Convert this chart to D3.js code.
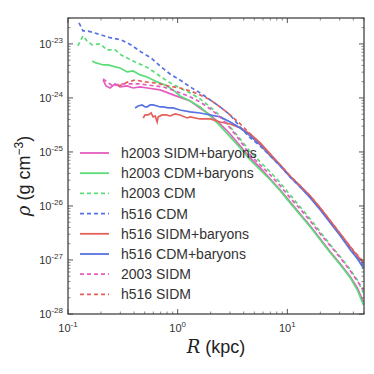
<!DOCTYPE html>
<html><head><meta charset="utf-8">
<script src="https://cdn.jsdelivr.net/npm/d3@7"></script>
<style>html,body{margin:0;padding:0;background:#fff;}svg{display:block;}</style>
</head><body>
<svg id="chart" width="374" height="374"></svg>
<script>
// ---- data (R in kpc, rho in g cm^-3) ----
const rH2003SidmBar = [0.209,0.222,0.242,0.269,0.298,0.346,0.392,0.455,0.527,0.692,0.910,1.30,1.60,1.98,2.44,3.01,3.72,4.59,5.66,7.00,8.63,10.6,13.1,16.2,20.0,24.7,30.5,37.6,43.5,49.4];
const rhoH2003SidmBar = [2.15e-24,1.67e-24,1.53e-24,1.82e-24,1.60e-24,1.67e-24,1.53e-24,1.60e-24,1.53e-24,1.41e-24,1.14e-24,8.80e-25,6.53e-25,4.84e-25,3.30e-25,2.15e-25,1.29e-25,7.74e-26,5.06e-26,3.16e-26,1.98e-26,1.19e-26,7.11e-27,4.26e-27,2.45e-27,1.41e-27,8.43e-28,4.84e-28,3.03e-28,1.67e-28];

const rH2003CdmBar = [0.166,0.180,0.196,0.209,0.232,0.269,0.298,0.346,0.392,0.455,0.527,0.650,0.769,0.910,1.05,1.30,1.60,1.98,2.44,3.01,3.72,4.59,5.66,7.00,8.63,10.6,13.1,16.2,20.0,24.7,30.5,37.6,43.5,49.4];
const rhoH2003CdmBar = [4.84e-24,4.45e-24,4.26e-24,4.08e-24,4.08e-24,3.75e-24,3.59e-24,3.03e-24,3.16e-24,2.67e-24,2.45e-24,1.98e-24,1.74e-24,1.41e-24,1.09e-24,8.80e-25,6.81e-25,4.64e-25,3.03e-25,1.90e-25,1.19e-25,7.11e-26,4.64e-26,3.03e-26,1.90e-26,1.14e-26,6.81e-27,4.08e-27,2.35e-27,1.35e-27,8.08e-28,4.64e-28,2.78e-28,1.47e-28];

const rH2003Cdm = [0.123,0.137,0.149,0.166,0.196,0.227,0.269,0.305,0.409,0.538,0.707,0.854,1.05,1.30,1.60,1.98,2.44,3.01,3.72,4.59,5.66,7.00,8.63,10.6,13.1,16.2,20.0,24.7,30.5,37.6,43.5,49.4];
const rhoH2003Cdm = [9.18e-24,1.41e-23,1.14e-23,9.58e-24,1.0e-23,7.74e-24,7.74e-24,6.26e-24,4.64e-24,3.59e-24,2.45e-24,1.90e-24,1.53e-24,1.24e-24,9.58e-25,6.81e-25,4.64e-25,2.90e-25,1.74e-25,1.0e-25,6.53e-26,4.26e-26,2.67e-26,1.60e-26,9.58e-27,5.74e-27,3.30e-27,1.90e-27,1.14e-27,6.53e-28,4.26e-28,2.45e-28];

const rH516Cdm = [0.126,0.137,0.149,0.162,0.200,0.247,0.305,0.376,0.464,0.573,0.707,0.873,1.05,1.30,1.60,1.98,2.44,3.01,3.72,4.59,5.66,7.00,8.63,10.6,13.1,16.2,20.0,24.7,30.5,37.6,43.5,49.4];
const rhoH516Cdm = [2.45e-23,1.74e-23,1.74e-23,1.67e-23,1.47e-23,1.29e-23,1.19e-23,9.58e-24,7.11e-24,5.51e-24,3.75e-24,2.67e-24,2.15e-24,1.60e-24,1.24e-24,9.18e-25,6.81e-25,4.84e-25,2.90e-25,1.82e-25,1.29e-25,8.43e-26,5.51e-26,3.44e-26,2.25e-26,1.47e-26,8.80e-27,5.06e-27,2.90e-27,1.60e-27,1.14e-27,8.08e-28];

const rH516SidmBar = [0.484,0.505,0.538,0.573,0.597,0.623,0.650,0.664,0.722,0.785,0.854,0.949,1.05,1.22,1.30,1.60,1.98,2.44,3.01,3.72,4.59,5.66,7.00,8.63,10.6,13.1,16.2,20.0,24.7,30.5,37.6,43.5,49.4];
const rhoH516SidmBar = [4.26e-25,4.84e-25,4.84e-25,5.27e-25,4.45e-25,4.64e-25,3.59e-25,4.45e-25,4.84e-25,4.84e-25,4.64e-25,5.06e-25,4.84e-25,4.26e-25,4.45e-25,4.08e-25,4.08e-25,3.59e-25,3.30e-25,2.78e-25,2.15e-25,1.47e-25,9.18e-26,5.74e-26,3.59e-26,2.35e-26,1.53e-26,9.18e-27,5.27e-27,3.03e-27,1.74e-27,1.19e-27,8.80e-28];

const rH516CdmBar = [0.409,0.436,0.474,0.505,0.527,0.561,0.597,0.650,0.692,0.737,0.819,0.910,1.05,1.30,1.60,1.98,2.44,3.01,3.72,4.59,5.66,7.00,8.63,10.6,13.1,16.2,20.0,24.7,30.5,37.6,43.5,49.4];
const rhoH516CdmBar = [6.53e-25,7.11e-25,7.42e-25,6.81e-25,6.81e-25,7.42e-25,7.42e-25,7.11e-25,6.81e-25,6.81e-25,6.53e-25,6.53e-25,5.99e-25,5.51e-25,5.27e-25,4.84e-25,4.45e-25,3.59e-25,2.78e-25,1.98e-25,1.35e-25,8.43e-26,5.51e-26,3.44e-26,2.25e-26,1.41e-26,8.43e-27,4.84e-27,2.78e-27,1.53e-27,1.05e-27,7.11e-28];

const rH2003Sidm = [0.209,0.232,0.258,0.298,0.368,0.455,0.527,0.737,0.949,1.30,1.60,1.98,2.44,3.01,3.72,4.59,5.66,7.00,8.63,10.6,13.1,16.2,20.0,24.7,30.5,37.6,43.5,49.4];
const rhoH2003Sidm = [2.25e-24,1.90e-24,1.67e-24,1.82e-24,1.82e-24,1.82e-24,1.74e-24,1.60e-24,1.35e-24,1.05e-24,8.43e-25,6.26e-25,4.45e-25,2.78e-25,1.60e-25,8.80e-26,5.74e-26,3.75e-26,2.35e-26,1.41e-26,8.80e-27,5.27e-27,3.03e-27,1.82e-27,1.09e-27,6.26e-28,4.08e-28,2.78e-28];

const rH516Sidm = [0.286,0.305,0.353,0.409,0.505,0.623,0.819,1.05,1.30,1.60,1.98,2.44,3.01,3.72,4.59,5.66,7.00,8.63,10.6,13.1,16.2,20.0,24.7,30.5,37.6,43.5,49.4];
const rhoH516Sidm = [1.67e-24,1.74e-24,1.98e-24,2.15e-24,1.98e-24,1.90e-24,1.67e-24,1.53e-24,1.35e-24,1.14e-24,9.18e-25,6.81e-25,4.84e-25,3.30e-25,2.15e-25,1.41e-25,8.80e-26,5.74e-26,3.59e-26,2.35e-26,1.53e-26,9.18e-27,5.27e-27,3.03e-27,1.74e-27,1.24e-27,9.18e-28];

const seriesNames = ["h2003 SIDM+baryons","h2003 CDM+baryons","h2003 CDM","h516 CDM","h516 SIDM+baryons","h516 CDM+baryons","2003 SIDM","h516 SIDM"];
const xTickValues = [0.1, 1, 10];
const xTickExps = ["-1","0","1"];
const yTickValues = [1e-28,1e-27,1e-26,1e-25,1e-24,1e-23];
const yTickExps = ["-28","-27","-26","-25","-24","-23"];

// ---- styling ----
const MAG = "#e55cbf", GRN = "#5adc78", BLU = "#5672e4", RED = "#e4605a";
const series = [
  {name: seriesNames[0], r: rH2003SidmBar, rho: rhoH2003SidmBar, color: MAG, dash: null},
  {name: seriesNames[1], r: rH2003CdmBar, rho: rhoH2003CdmBar, color: GRN, dash: null},
  {name: seriesNames[2], r: rH2003Cdm, rho: rhoH2003Cdm, color: GRN, dash: "4,3"},
  {name: seriesNames[3], r: rH516Cdm, rho: rhoH516Cdm, color: BLU, dash: "4,3"},
  {name: seriesNames[4], r: rH516SidmBar, rho: rhoH516SidmBar, color: RED, dash: null},
  {name: seriesNames[5], r: rH516CdmBar, rho: rhoH516CdmBar, color: BLU, dash: null},
  {name: seriesNames[6], r: rH2003Sidm, rho: rhoH2003Sidm, color: MAG, dash: "4,3"},
  {name: seriesNames[7], r: rH516Sidm, rho: rhoH516Sidm, color: RED, dash: "4,3"}
];

const L = 68, R = 364, T = 18, B = 314;
const svg = d3.select("#chart");
const x = d3.scaleLog().domain([0.1, 50]).range([L, R]);
const y = d3.scaleLog().domain([1e-28, Math.pow(10, -22.52)]).range([B, T]);

svg.append("clipPath").attr("id","clip").append("rect")
  .attr("x", L).attr("y", T).attr("width", R-L).attr("height", B-T);

// lines
const line = d3.line().x(d => x(d[0])).y(d => y(d[1]));
const gLines = svg.append("g").attr("clip-path","url(#clip)");
series.forEach(s => {
  const pts = s.r.map((v,i) => [v, s.rho[i]]);
  gLines.append("path").datum(pts)
    .attr("d", line).attr("fill","none")
    .attr("stroke", s.color).attr("stroke-width", 1.7)
    .attr("stroke-dasharray", s.dash);
});

// axes (ticks inward, all four sides)
const axisColor = "#555";
function minorTicksX() {
  const t = [];
  for (let d = 0.1; d < 100; d *= 10) for (let k = 1; k < 10; k++) {
    const v = d*k; if (v >= 0.1 && v <= 50) t.push(v);
  }
  return t;
}
function minorTicksY() {
  const t = [];
  for (let e = -28; e < -22; e++) for (let k = 1; k < 10; k++) {
    const v = k*Math.pow(10,e); if (v >= 1e-28 && v <= Math.pow(10,-22.52)) t.push(v);
  }
  return t;
}
const gAx = svg.append("g");
minorTicksX().forEach(v => {
  const major = xTickValues.some(m => Math.abs(m - v) < 1e-9);
  const len = major ? 5 : 2.5;
  const px = x(v);
  gAx.append("line").attr("x1",px).attr("x2",px).attr("y1",B).attr("y2",B-len).attr("stroke",axisColor).attr("stroke-width",major?1:0.7);
  gAx.append("line").attr("x1",px).attr("x2",px).attr("y1",T).attr("y2",T+len).attr("stroke",axisColor).attr("stroke-width",major?1:0.7);
});
minorTicksY().forEach(v => {
  const major = yTickValues.some(m => Math.abs(Math.log10(m) - Math.log10(v)) < 1e-6);
  const len = major ? 5 : 2.5;
  const py = y(v);
  gAx.append("line").attr("y1",py).attr("y2",py).attr("x1",L).attr("x2",L+len).attr("stroke",axisColor).attr("stroke-width",major?1:0.7);
  gAx.append("line").attr("y1",py).attr("y2",py).attr("x1",R).attr("x2",R-len).attr("stroke",axisColor).attr("stroke-width",major?1:0.7);
});
svg.append("rect").attr("x",L).attr("y",T).attr("width",R-L).attr("height",B-T)
  .attr("fill","none").attr("stroke","#444").attr("stroke-width",1.3);

const font = "'Liberation Sans', Arial, sans-serif";
// x tick labels
xTickValues.forEach((v,i) => {
  const t = svg.append("text").attr("x", x(v)).attr("y", 332).attr("text-anchor","middle")
    .attr("font-family", font).attr("font-size", 11).attr("fill","#333");
  t.append("tspan").text("10");
  t.append("tspan").attr("dy",-5).attr("font-size",8).text(xTickExps[i]);
});
// y tick labels
yTickValues.forEach((v,i) => {
  const t = svg.append("text").attr("x", 63).attr("y", y(v)+4).attr("text-anchor","end")
    .attr("font-family", font).attr("font-size", 11).attr("fill","#333");
  t.append("tspan").text("10");
  t.append("tspan").attr("dy",-5).attr("font-size",8).text(yTickExps[i]);
});

// axis labels
const xl = svg.append("text").attr("x", 216).attr("y", 353).attr("text-anchor","middle")
  .attr("font-family", font).attr("font-size", 18).attr("fill","#222");
xl.append("tspan").attr("font-family","'DejaVu Serif', serif").attr("font-style","italic").text("R");
xl.append("tspan").text(" (kpc)");

const yl = svg.append("text").attr("transform","translate(30,176) rotate(-90)").attr("text-anchor","middle")
  .attr("font-family", font).attr("font-size", 18).attr("fill","#222");
yl.append("tspan").attr("font-family","'DejaVu Serif', serif").attr("font-style","italic").text("ρ");
yl.append("tspan").text(" (g cm");
yl.append("tspan").attr("dy",-7).attr("font-size",12).text("−3");
yl.append("tspan").attr("dy",7).text(")");

// legend
const legY0 = 153, legDy = 20.2;
series.forEach((s,i) => {
  const yy = legY0 + i*legDy;
  svg.append("line").attr("x1",80).attr("x2",109).attr("y1",yy).attr("y2",yy)
    .attr("stroke", s.color).attr("stroke-width",1.8).attr("stroke-dasharray", s.dash);
  svg.append("text").attr("x",121).attr("y",yy+5).attr("font-family",font)
    .attr("font-size",14).attr("fill","#333").text(s.name);
});
</script>
</body></html>
